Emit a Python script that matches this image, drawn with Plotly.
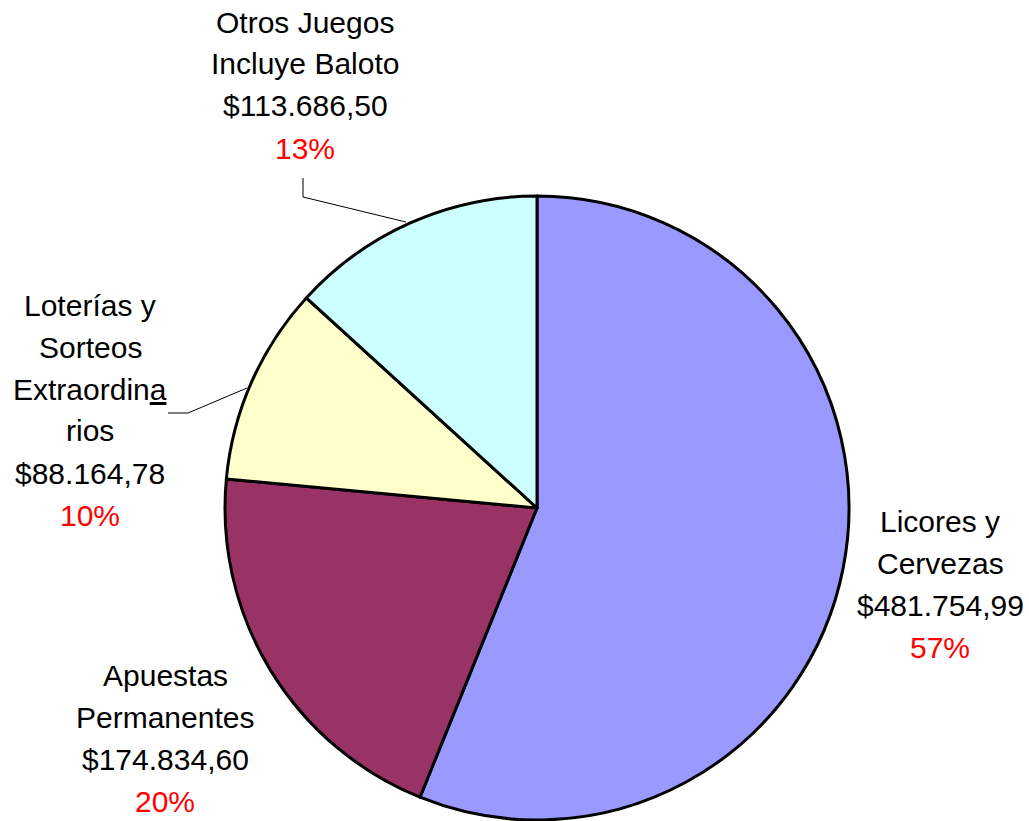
import plotly.graph_objects as go

# ---- data ----
categories = ["Licores y Cervezas", "Apuestas Permanentes",
              "Loterías y Sorteos Extraordinarios", "Otros Juegos Incluye Baloto"]
values = [481754.99, 174834.60, 88164.78, 113686.50]
value_labels = ["$481.754,99", "$174.834,60", "$88.164,78", "$113.686,50"]
pct_labels = ["57%", "20%", "10%", "13%"]
colors = ["#9999FF", "#993366", "#FFFFCC", "#CCFFFF"]

W, H = 1029, 821

def px(x):
    return x / W

def py(y):
    return 1 - y / H

cx, cy, r = 537, 508, 312

fig = go.Figure(go.Pie(
    labels=categories,
    values=values,
    sort=False,
    direction="clockwise",
    rotation=0,
    marker=dict(colors=colors, line=dict(color="black", width=3)),
    textinfo="none",
    hoverinfo="label+value+percent",
    domain=dict(x=[px(cx - r), px(cx + r)], y=[py(cy + r), py(cy - r)]),
    showlegend=False,
))

# label text blocks: (center x, first line y, name lines)
label_layout = [
    (940, 521, ["Licores y", "Cervezas"]),
    (165, 675, ["Apuestas", "Permanentes"]),
    (90, 305, ["Loterías y", "Sorteos", "Extraordin<u>a</u>", "rios"]),
    (305, 22, ["Otros Juegos", "Incluye Baloto"]),
]
step = 42
annotations = []
for i, (x, y0, lines) in enumerate(label_layout):
    all_lines = [(t, "black") for t in lines] + [(value_labels[i], "black"), (pct_labels[i], "#FF0000")]
    for k, (t, col) in enumerate(all_lines):
        annotations.append(dict(
            x=px(x), y=py(y0 + k * step), xref="paper", yref="paper",
            text=t, showarrow=False, xanchor="center", yanchor="middle",
            font=dict(family="Liberation Sans, Arial, sans-serif", size=30, color=col),
        ))

line_style = dict(color="black", width=1)
shapes = [
    dict(type="path", xref="paper", yref="paper",
         path=f"M {px(303)} {py(178)} L {px(303)} {py(197)} L {px(406)} {py(222)}",
         line=line_style),
    dict(type="path", xref="paper", yref="paper",
         path=f"M {px(168)} {py(413)} L {px(188)} {py(413)} L {px(247)} {py(388)}",
         line=line_style),
]

fig.update_layout(
    width=W, height=H,
    margin=dict(l=0, r=0, t=0, b=0),
    paper_bgcolor="white", plot_bgcolor="white",
    annotations=annotations, shapes=shapes,
)

fig.write_html(
    "out.html",
    config={"displayModeBar": False},
    post_script="document.body.style.margin='0';document.body.style.overflow='hidden';",
)
